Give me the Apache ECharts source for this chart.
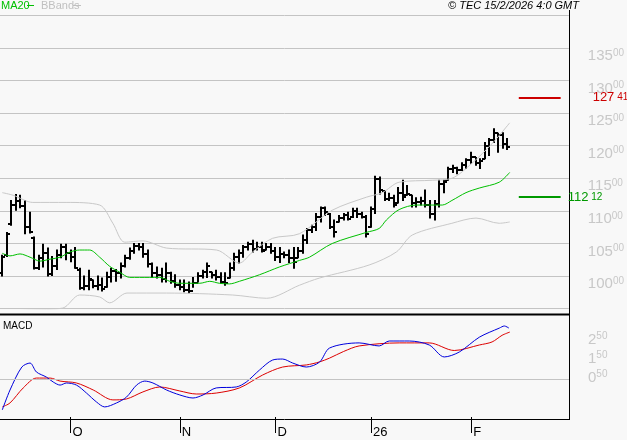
<!DOCTYPE html>
<html><head><meta charset="utf-8">
<script src="https://cdn.jsdelivr.net/npm/echarts@6/dist/echarts.min.js"></script>
<style>html,body{margin:0;padding:0;background:#f8f8f8}#c{width:627px;height:440px}</style>
</head><body><div id="c"></div>
<script>
const opens=[100.5,103.2,108.0,110.9,111.5,110.8,107.5,105.8,101.2,102.8,103.5,100.3,101.5,103.2,104.5,103.5,103.0,101.0,98.2,98.5,99.4,98.5,98.7,98.3,99.8,100.8,100.5,101.5,102.8,103.8,104.6,104.5,103.4,101.8,100.5,100.2,99.6,100.5,99.3,98.6,98.3,97.9,97.7,98.9,100.0,100.6,100.6,100.2,99.8,99.1,99.7,101.2,102.9,103.6,104.5,104.9,104.2,104.5,104.0,104.5,103.9,102.9,103.4,103.2,102.8,102.8,103.8,105.5,107.0,107.5,109.0,110.4,109.6,107.6,108.3,108.9,109.3,109.0,110.0,109.6,109.1,107.5,110.3,114.9,113.0,111.8,112.0,111.2,112.8,112.4,112.4,111.2,111.4,111.5,110.9,109.5,111.0,114.2,114.7,116.5,116.6,116.3,117.0,117.8,118.2,117.3,118.0,120.0,120.8,121.9,121.6,120.2];
const highs=[103.2,106.7,111.6,112.5,112.4,111.6,109.8,106.0,103.2,104.9,104.3,103.0,104.0,104.9,104.9,104.0,104.4,101.2,100.0,100.9,99.4,100.0,99.7,100.6,101.2,101.0,102.0,103.2,104.3,105.0,105.0,105.0,104.0,102.0,101.4,101.2,102.0,100.6,100.2,99.4,99.4,99.1,99.8,100.5,100.9,102.0,100.6,100.9,100.5,100.5,102.0,103.5,104.0,104.7,105.2,105.5,105.2,105.2,105.0,105.0,104.4,104.4,103.7,104.0,104.4,104.4,106.3,107.3,107.8,109.6,110.6,110.6,109.6,108.6,109.3,109.6,109.8,110.4,110.4,109.8,109.3,110.6,115.3,115.2,113.0,112.7,112.4,113.6,114.7,113.9,112.4,112.0,112.1,113.2,111.6,111.6,114.7,114.7,116.7,117.0,116.7,117.4,118.0,119.0,118.2,118.0,120.5,121.1,122.6,121.9,122.0,121.1];
const lows=[100.0,103.0,107.8,110.1,110.5,106.5,106.6,101.1,101.0,101.4,100.0,100.1,101.0,102.8,102.5,102.2,101.2,98.0,97.9,97.9,98.2,97.9,97.7,98.3,99.1,99.2,99.7,101.4,102.6,103.5,104.0,102.9,101.4,99.8,99.7,99.1,99.1,98.9,98.3,97.9,97.6,97.4,98.3,99.1,99.7,99.8,99.7,99.4,98.9,98.6,99.7,100.9,102.0,102.9,104.0,103.7,104.0,103.7,104.0,103.5,102.4,102.1,102.8,102.1,101.2,102.8,103.5,105.0,106.7,107.0,108.3,109.3,107.3,106.0,108.3,108.6,108.6,109.0,109.0,108.9,106.0,107.5,109.6,112.6,111.6,111.6,110.6,111.2,111.6,112.4,110.6,110.6,110.9,110.6,108.9,108.6,110.6,112.8,114.7,115.9,115.7,116.2,116.5,117.3,117.0,116.5,118.0,118.5,120.5,119.0,119.6,119.4];
const closes=[103.0,106.5,110.9,111.5,110.8,107.5,106.8,101.2,102.8,103.5,100.3,101.5,103.2,104.5,103.5,103.0,101.2,98.2,98.5,99.5,98.5,98.7,98.0,99.8,100.8,100.5,101.5,102.8,103.8,104.6,104.5,103.4,101.8,100.5,100.2,99.6,100.5,99.3,98.6,98.3,97.9,97.7,98.9,100.0,100.6,101.5,100.2,99.8,99.1,99.0,101.2,102.9,103.6,104.5,104.9,104.2,104.5,103.9,104.5,103.9,102.9,103.4,103.2,102.8,102.1,103.8,105.5,107.0,107.5,109.0,110.4,109.8,107.6,106.8,108.9,109.3,108.8,110.0,109.6,109.1,106.5,110.3,114.9,113.2,111.8,112.0,110.9,112.8,112.2,112.6,111.2,111.4,111.5,110.9,109.5,111.0,114.2,114.5,116.5,116.6,116.3,117.0,117.8,118.3,117.3,117.7,120.0,120.8,122.0,121.7,120.2,119.8];
const maX=[0,1.7,3.9,6.1,8.3,10.5,12.7,14.9,17.0,19.2,21.4,23.6,25.8,28.0,32.4,34.6,36.8,39.0,43.4,45.6,47.7,49.9,52.1,56.5,60.9,65.3,67.5,72.5,80.0,82.8,84.4,87.2,91.0,96.7,98.8,101.9,104.8,109.2,111.5];
const maY=[103.5,103.1,103.4,102.9,102.3,102.6,102.9,103.7,104.0,104.0,102.9,101.5,100.6,99.8,99.8,99.8,99.2,98.9,98.9,99.2,98.9,98.8,99.2,100.2,101.4,102.4,102.9,105.0,106.7,107.3,108.6,110.2,110.9,110.9,111.6,112.8,113.5,114.4,115.9];
const upX=[0,2.4,6.7,14.2,21.4,24.3,26.9,30.9,36.1,47.1,52.1,55.0,59.4,65.3,72.5,80.0,83.5,87.2,94.5,98.8,103.2,107.6,111.5];
const upY=[112.8,112.4,111.3,111.3,110.9,108.1,105.2,105.4,104.3,104.0,102.0,103.7,105.8,106.5,110.1,112.1,112.8,114.4,114.7,115.0,117.3,120.3,123.5];
const loX=[0,6.1,13.3,17.0,21.4,23.6,27.4,36.1,50.6,58.1,65.3,69.7,80.6,86.6,90.1,98.8,104.1,109.2,111.5];
const loY=[94.6,94.8,95.1,97.1,96.8,95.9,97.4,97.4,97.1,96.6,98.6,99.7,101.7,103.7,106.3,108.1,108.9,108.1,108.3];
const macdX=[0,1.7,4.3,6.1,7.5,9.7,11.2,12.7,14.1,16.3,18.5,20.7,22.5,25.1,27.3,29.5,31.3,33.1,36.1,39.0,41.9,44.1,47.0,51.4,53.6,56.5,59.4,61.6,63.8,66.8,69.7,71.9,78.4,82.8,85.0,89.4,93.8,97.1,100.4,104.8,109.2,110.3,111.3];
const macdY=[-1.63,-0.58,0.63,0.84,0.37,0.1,-0.16,-0.32,-0.21,-0.32,-0.74,-1.21,-1.47,-1.26,-0.95,-0.32,-0.11,-0.21,-0.58,-0.84,-1.0,-0.84,-0.47,-0.42,-0.16,0.47,1.0,1.05,0.84,0.63,0.89,1.63,1.9,1.74,2.0,2.0,1.79,1.16,1.42,2.2,2.68,2.79,2.68];
const sigX=[0,1.7,4.6,7.5,10.5,12.7,16.3,20.0,24.3,27.3,30.9,34.6,39.0,42.6,47.0,52.1,57.2,61.6,66.8,69.7,71.9,75.0,78.4,87.2,93.8,99.3,104.8,107.6,109.8,111.5];
const sigY=[-1.47,-1.26,-0.47,0.05,0.05,-0.11,-0.21,-0.58,-1.1,-1.05,-0.68,-0.42,-0.63,-0.79,-0.74,-0.47,0.21,0.63,0.74,0.9,1.1,1.45,1.74,1.9,1.9,1.5,1.79,1.95,2.3,2.47];
const priceTicks=[100,105,110,115,120,125,130,135];
const macdTicks=[0.5,1.5,2.5];
const monthTicks=[15,39,60,81,103];
const monthLabels=['O','N','D','26','F'];
const lastPrice=127.41, otherLevel=112.12;

const N=125;
const cats=Array.from({length:N},(_,i)=>String(i));
const ohlc=closes.map((c,i)=>[i,opens[i],highs[i],lows[i],c]);
const pair=(xs,ys)=>xs.map((x,i)=>[x,ys[i]]);
const chart=echarts.init(document.getElementById('c'));
const G='#c4c4c4';
const rich={a:{fontSize:15,color:'#c8c8c8',fontFamily:'Liberation Sans'},b:{fontSize:10,color:'#c8c8c8',verticalAlign:'top',padding:[0,0,6,0],fontFamily:'Liberation Sans'}};
const lvl=(col)=>({a:{color:col,fontSize:13,fontFamily:'Liberation Sans'},b:{color:col,fontSize:10,fontFamily:'Liberation Sans'}});
chart.setOption({
  animation:false,backgroundColor:'#f8f8f8',
  grid:[{left:0,right:58,top:15.3,height:293.4},{left:0,right:58,top:312.5,height:104.5}],
  xAxis:[
    {type:'value',gridIndex:0,min:-0.5,max:124.5,show:false},
    {type:'value',gridIndex:1,min:-0.5,max:124.5,show:false},
    {type:'category',gridIndex:1,data:cats,boundaryGap:true,position:'bottom',
     axisLine:{show:true,lineStyle:{color:'rgba(0,0,0,0)'}},
     axisTick:{show:true,alignWithLabel:true,length:16,interval:(i)=>monthTicks.includes(i),lineStyle:{color:'#000'}},
     axisLabel:{interval:(i)=>monthTicks.includes(i),align:'left',margin:9,padding:[0,0,0,2],color:'#000',fontSize:13,fontFamily:'Liberation Sans',
       formatter:(v,i)=>monthLabels[monthTicks.indexOf(i)]||''}}
  ],
  yAxis:[
    {type:'value',gridIndex:0,position:'right',min:95,max:140,interval:5,
     axisLine:{show:false},axisTick:{show:false},
     splitLine:{lineStyle:{color:G}},
     axisLabel:{margin:19,align:'left',verticalAlign:'top',fontSize:15,rich,
       formatter:v=>priceTicks.includes(v)?`{a|${v}}{b|00}`:''}},
    {type:'value',gridIndex:1,position:'right',min:-2,max:3.5,interval:0.5,
     axisLine:{show:false},axisTick:{show:false},splitLine:{show:false},
     axisLabel:{margin:19,align:'left',verticalAlign:'top',fontSize:15,rich,
       formatter:v=>{if(!macdTicks.includes(v))return '';const s=v.toFixed(2).split('.');return `{a|${s[0]}}{b|${s[1]}}`;}}}
  ],
  series:[
    {type:'line',xAxisIndex:0,yAxisIndex:0,data:pair(upX,upY),smooth:0.3,symbol:'none',lineStyle:{color:'#c8c8c8',width:1}},
    {type:'line',xAxisIndex:0,yAxisIndex:0,data:pair(loX,loY),smooth:0.3,symbol:'none',lineStyle:{color:'#c8c8c8',width:1}},
    {type:'line',xAxisIndex:0,yAxisIndex:0,data:pair(maX,maY),smooth:0.3,symbol:'none',lineStyle:{color:'#00c000',width:1},
     markLine:{silent:true,symbol:'none',animation:false,data:[
       [{coord:[113.5,lastPrice],lineStyle:{color:'#cc0000',width:2,type:'solid'},label:{show:true,position:'end',distance:32,fontSize:13,formatter:'{a|127}{b| 41}',rich:lvl('#cc0000')}},{coord:[122.7,lastPrice]}],
       [{coord:[113.5,otherLevel],lineStyle:{color:'#009900',width:2,type:'solid'},label:{show:true,position:'end',distance:7,fontSize:13,formatter:'{a|112}{b| 12}',rich:lvl('#009900')}},{coord:[122.7,otherLevel]}]
     ]}},
    {type:'custom',xAxisIndex:0,yAxisIndex:0,data:ohlc,encode:{x:0,y:[1,2,3,4]},
     renderItem:(p,api)=>{
       const x=api.value(0);
       const h=api.coord([x,api.value(2)]),l=api.coord([x,api.value(3)]);
       const o=api.coord([x,api.value(1)]),c=api.coord([x,api.value(4)]);
       const px=Math.round(h[0]);const st={stroke:'#000',lineWidth:2};
       return {type:'group',children:[
         {type:'line',shape:{x1:px,y1:h[1]-0.5,x2:px,y2:l[1]+0.5},style:st},
         {type:'line',shape:{x1:px-3,y1:Math.round(o[1]),x2:px,y2:Math.round(o[1])},style:st},
         {type:'line',shape:{x1:px,y1:Math.round(c[1]),x2:px+3,y2:Math.round(c[1])},style:st}]};
     }},
    {type:'line',xAxisIndex:1,yAxisIndex:1,data:pair(sigX,sigY),smooth:0.3,symbol:'none',lineStyle:{color:'#dd0000',width:1},
     markLine:{silent:true,symbol:'none',label:{show:false},lineStyle:{color:G,type:'solid',width:1},data:[{yAxis:0}]}},
    {type:'line',xAxisIndex:1,yAxisIndex:1,data:pair(macdX,macdY),smooth:0.3,symbol:'none',lineStyle:{color:'#0000dd',width:1}}
  ],
  graphic:[
    {type:'line',shape:{x1:0,y1:314.5,x2:569,y2:314.5},style:{stroke:'#000',lineWidth:2}},
    {type:'line',shape:{x1:0,y1:419.5,x2:569,y2:419.5},style:{stroke:'#000',lineWidth:1}},
    {type:'line',shape:{x1:569.5,y1:10,x2:569.5,y2:420},style:{stroke:'#000',lineWidth:1}},
    {type:'text',left:1,top:0,style:{text:'MA20',fill:'#00c000',font:'11px Liberation Sans'}},
    {type:'line',shape:{x1:27,y1:5.5,x2:34,y2:5.5},style:{stroke:'#00c000',lineWidth:1}},
    {type:'text',left:41,top:0,style:{text:'BBands',fill:'#c0c0c0',font:'11px Liberation Sans'}},
    {type:'line',shape:{x1:73,y1:5.5,x2:81,y2:5.5},style:{stroke:'#c0c0c0',lineWidth:1}},
    {type:'text',left:448,top:0,style:{text:'© TEC 15/2/2026 4:0 GMT',fill:'#000',font:'italic 11px Liberation Sans'}},
    {type:'text',left:3,top:321,style:{text:'MACD',fill:'#000',font:'10px Liberation Sans'}}
  ]
});
</script></body></html>
